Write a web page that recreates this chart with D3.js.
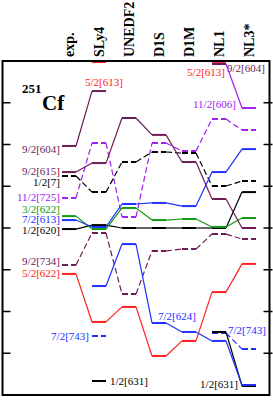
<!DOCTYPE html>
<html>
<head>
<meta charset="utf-8">
<script src="https://cdn.jsdelivr.net/npm/d3@7"></script>
<style>
  body { margin: 0; background: #fff; }
  text { font-family: "Liberation Serif", "Times New Roman", serif; }
</style>
</head>
<body>
<div id="chart"></div>
<script>
// columns (models), energies in MeV relative to the 1/2[620] level
const columns = ["exp.", "SLy4", "UNEDF2", "D1S", "D1M", "NL1", "NL3*"];

const lv_604  = [0.393, 0.656, null, null, null, 0.786, null];
const lv_615  = [0.268, 0.311, 0.527, 0.446, 0.316, 0.139, 0.000];
const lv_7    = [0.249, 0.172, 0.316, 0.364, 0.359, 0.201, 0.225];
const lv_725  = [0.144, 0.407, 0.053, 0.407, 0.369, 0.522, 0.469];
const lv_622g = [0.057, -0.005, 0.096, 0.038, 0.043, 0.005, 0.048];
const lv_613b = [0.038, 0.005, 0.115, 0.120, 0.105, 0.268, 0.378];
const lv_620  = [-0.005, 0.014, 0.000, 0.000, 0.000, 0.000, 0.172];
const lv_734  = [-0.177, -0.024, -0.316, -0.110, -0.101, -0.029, -0.053];
const lv_622r = [-0.220, -0.450, -0.378, -0.613, -0.541, -0.307, -0.172];
const lv_624  = [null, -0.278, -0.077, -0.455, -0.498, -0.541, -0.752];
const lv_743  = [null, -0.517, null, null, null, -0.503, -0.580];
const lv_631  = [null, -0.733, null, null, null, -0.498, -0.757];
const lv_606  = [null, null, null, null, null, 0.786, 0.575];
const lv_613r = [null, 0.795, null, null, null, 0.790, null];

const tickValues = [-0.6, -0.4, -0.2, 0, 0.2, 0.4, 0.6];

const maroon = "#6e1c56", violet = "#a020f0", green = "#119911",
      blue = "#2030ff", red = "#ff2020", black = "#000";

const series = [
  {values: lv_622r, color: red, dashed: false},
  {values: lv_613r, color: red, dashed: false},
  {values: lv_734, color: maroon, dashed: true},
  {values: lv_725, color: violet, dashed: true},
  {values: lv_606, color: violet, dashed: false},
  {values: lv_7, color: black, dashed: true},
  {values: lv_620, color: black, dashed: false},
  {values: lv_622g, color: green, dashed: false},
  {values: lv_613b, color: blue, dashed: false},
  {values: lv_743, color: blue, dashed: true},
  {values: lv_631, color: black, dashed: false},
  {values: lv_624, color: blue, dashed: false},
  {values: lv_615, color: maroon, dashed: false},
  {values: lv_604, color: maroon, dashed: false}
];

// level labels: column, energy of label centre, anchor, x offset from column
const labels = [
  {text: "9/2[604]", col: "exp.", e: 0.378, anchor: "end", dx: -9, color: maroon},
  {text: "9/2[615]", col: "exp.", e: 0.273, anchor: "end", dx: -9, color: maroon},
  {text: "1/2[7]", col: "exp.", e: 0.216, anchor: "end", dx: -9, color: black},
  {text: "11/2[725]", col: "exp.", e: 0.144, anchor: "end", dx: -9, color: violet},
  {text: "3/2[622]", col: "exp.", e: 0.088, anchor: "end", dx: -9, color: green},
  {text: "7/2[613]", col: "exp.", e: 0.040, anchor: "end", dx: -9, color: blue},
  {text: "1/2[620]", col: "exp.", e: -0.010, anchor: "end", dx: -9, color: black},
  {text: "9/2[734]", col: "exp.", e: -0.160, anchor: "end", dx: -9, color: maroon},
  {text: "5/2[622]", col: "exp.", e: -0.216, anchor: "end", dx: -9, color: red},
  {text: "5/2[613]", col: "SLy4", e: 0.699, anchor: "middle", dx: 5, color: red},
  {text: "7/2[743]", col: "SLy4", e: -0.522, anchor: "end", dx: -10, color: blue},
  {text: "1/2[631]", col: "SLy4", e: -0.733, anchor: "start", dx: 11, color: black},
  {text: "7/2[624]", col: "D1S", e: -0.426, anchor: "start", dx: -1, color: blue},
  {text: "7/2[743]", col: "NL1", e: -0.493, anchor: "start", dx: 9, color: blue},
  {text: "1/2[631]", col: "NL3*", e: -0.752, anchor: "end", dx: -11, color: black},
  {text: "5/2[613]", col: "NL1", e: 0.747, anchor: "end", dx: 6, color: red},
  {text: "9/2[604]", col: "NL1", e: 0.762, anchor: "start", dx: 8, color: maroon},
  {text: "11/2[606]", col: "NL3*", e: 0.594, anchor: "end", dx: -13, color: violet}
];

const width = 273, height = 401;
const margin = {top: 61, right: 3.5, bottom: 6, left: 2.5};
const half = 7;

const svg = d3.select("#chart").append("svg")
  .attr("width", width)
  .attr("height", height);

const x = d3.scalePoint()
  .domain(columns)
  .range([69, 249]);

const y = d3.scaleLinear()
  .domain([-0.8, 0.8])
  .range([height - margin.bottom, margin.top]);

// levels
series.forEach(s => {
  const g = svg.append("g")
    .attr("stroke", s.color)
    .attr("fill", "none")
    .attr("stroke-dasharray", s.dashed ? "6,3" : null);

  const pts = columns.map((c, i) => ({c: c, v: s.values[i]}));
  const links = [];
  for (let i = 0; i < pts.length - 1; i++) {
    if (pts[i].v != null && pts[i + 1].v != null) links.push([pts[i], pts[i + 1]]);
  }

  g.selectAll("line.link").data(links).enter()
    .append("line")
    .classed("link", true)
    .attr("x1", d => x(d[0].c) + half)
    .attr("y1", d => y(d[0].v))
    .attr("x2", d => x(d[1].c) - half)
    .attr("y2", d => y(d[1].v))
    .attr("stroke-width", 1.2);

  g.selectAll("line.level").data(pts.filter(p => p.v != null)).enter()
    .append("line")
    .classed("level", true)
    .attr("x1", d => x(d.c) - half)
    .attr("x2", d => x(d.c) + half)
    .attr("y1", d => y(d.v))
    .attr("y2", d => y(d.v))
    .attr("stroke-width", 2);
});

// labels
svg.selectAll("text.lvl").data(labels).enter()
  .append("text")
  .classed("lvl", true)
  .attr("x", d => x(d.col) + d.dx)
  .attr("y", d => y(d.e) + 3.5)
  .attr("text-anchor", d => d.anchor)
  .attr("fill", d => d.color)
  .style("font-size", "11px")
  .text(d => d.text);

// frame and ticks
const left = margin.left, right = width - margin.right;
svg.append("rect")
  .attr("x", left)
  .attr("y", margin.top)
  .attr("width", right - left)
  .attr("height", height - margin.bottom - margin.top)
  .attr("fill", "none")
  .attr("stroke", "#000")
  .attr("stroke-width", 2);

svg.selectAll("line.tl").data(tickValues).enter()
  .append("line")
  .attr("x1", left).attr("x2", left + 8)
  .attr("y1", d => y(d)).attr("y2", d => y(d))
  .attr("stroke", "#000").attr("stroke-width", 1.5);

svg.selectAll("line.tr").data(tickValues).enter()
  .append("line")
  .attr("x1", right - 6).attr("x2", right + 3)
  .attr("y1", d => y(d)).attr("y2", d => y(d))
  .attr("stroke", "#000").attr("stroke-width", 1.5);

// column headers
svg.selectAll("text.col").data(columns).enter()
  .append("text")
  .attr("transform", d => `translate(${x(d) + 4.5},57) rotate(-90)`)
  .style("font-size", "14px")
  .style("font-weight", "bold")
  .text(d => d);

// nucleus
svg.append("text")
  .attr("x", 22)
  .attr("y", 93)
  .style("font-weight", "bold")
  .style("font-size", "13px")
  .text("251");
svg.append("text")
  .attr("x", 42)
  .attr("y", 110)
  .style("font-weight", "bold")
  .style("font-size", "21px")
  .text("Cf");
</script>
</body>
</html>
